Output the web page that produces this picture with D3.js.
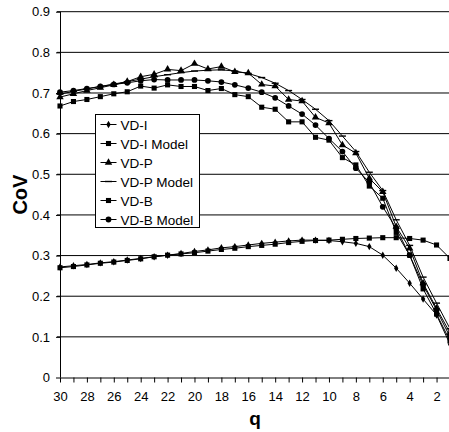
<!DOCTYPE html>
<html>
<head>
<meta charset="utf-8">
<script src="https://cdn.jsdelivr.net/npm/d3@7"></script>
<style>
  body { margin: 0; background: #fff; }
  svg { display: block; }
</style>
</head>
<body>
<svg width="449" height="432"></svg>
<script>
// q runs from 30 down to 1
const qValues = [30,29,28,27,26,25,24,23,22,21,20,19,18,17,16,15,14,13,12,11,10,9,8,7,6,5,4,3,2,1];
const xTicks = [30,28,26,24,22,20,18,16,14,12,10,8,6,4,2];
const yTicks = [0,0.1,0.2,0.3,0.4,0.5,0.6,0.7,0.8,0.9];

const vdI      = [0.272,0.275,0.278,0.282,0.285,0.289,0.293,0.297,0.301,0.305,0.310,0.314,0.319,0.322,0.326,0.330,0.333,0.336,0.338,0.338,0.337,0.334,0.330,0.322,0.301,0.269,0.232,0.193,0.154,0.082];
const vdIModel = [0.270,0.273,0.277,0.281,0.284,0.288,0.292,0.297,0.301,0.304,0.307,0.311,0.315,0.318,0.322,0.325,0.328,0.332,0.335,0.337,0.338,0.340,0.342,0.343,0.344,0.344,0.342,0.338,0.326,0.293];
const vdP      = [0.690,0.698,0.706,0.713,0.720,0.728,0.740,0.746,0.758,0.755,0.772,0.759,0.765,0.752,0.749,0.721,0.717,0.684,0.680,0.640,0.626,0.572,0.552,0.490,0.457,0.371,0.318,0.232,0.170,0.110];
const vdPModel = [0.697,0.704,0.710,0.716,0.722,0.728,0.734,0.740,0.745,0.750,0.754,0.756,0.757,0.754,0.748,0.738,0.724,0.706,0.684,0.660,0.632,0.594,0.556,0.505,0.460,0.388,0.325,0.247,0.183,0.120];
const vdB      = [0.668,0.679,0.684,0.691,0.698,0.703,0.717,0.712,0.720,0.716,0.716,0.706,0.711,0.696,0.691,0.665,0.660,0.629,0.629,0.591,0.584,0.541,0.523,0.471,0.441,0.357,0.301,0.218,0.156,0.090];
const vdBModel = [0.702,0.706,0.711,0.716,0.721,0.725,0.730,0.733,0.732,0.732,0.732,0.730,0.727,0.720,0.712,0.702,0.688,0.668,0.648,0.621,0.588,0.556,0.515,0.480,0.420,0.367,0.301,0.228,0.166,0.100];

const seriesNames = ["VD-I","VD-I Model","VD-P","VD-P Model","VD-B","VD-B Model"];
const seriesValues = [vdI, vdIModel, vdP, vdPModel, vdB, vdBModel];
const seriesMarkers = ["diamond","square","triangle","dash","square","circle"];

function drawMarker(sel, kind){
    if(kind == "dash"){
        sel.append("line")
            .attr("x1", -3.5).attr("x2", 3.5)
            .attr("y1", 0).attr("y2", 0)
            .style("stroke", "#000")
            .style("stroke-width", 1.4);
        return;
    }
    let type = d3.symbolSquare, size = 26;
    if(kind == "diamond"){ type = d3.symbolDiamond; size = 16; }
    if(kind == "triangle"){ type = d3.symbolTriangle; size = 24; }
    if(kind == "circle"){ type = d3.symbolCircle; size = 26; }
    sel.append("path")
        .attr("d", d3.symbol().type(type).size(size)())
        .style("fill", "#000");
}

function drawChart(){
    const svg = d3.select("svg");
    const left = 60, right = 450, top = 11.7, bottom = 377.5;

    const xScale = d3.scaleLinear().domain([30, 1]).range([left, right]);
    const yScale = d3.scaleLinear().domain([0, 0.9]).range([bottom, top]);

    // gridlines
    svg.append("g")
        .selectAll("line")
        .data(yTicks.slice(1))
        .enter().append("line")
        .attr("x1", left - 3).attr("x2", 449)
        .attr("y1", d => yScale(d)).attr("y2", d => yScale(d))
        .style("stroke", "#000")
        .style("stroke-width", 1);

    // y axis
    const yAxis = svg.append("g")
        .attr("transform", "translate(" + left + ",0)")
        .call(d3.axisLeft(yScale).tickValues(yTicks).tickSize(4).tickPadding(6)
            .tickFormat(d => d == 0 ? "0" : d3.format(".1f")(d)));
    yAxis.select(".domain").attr("d", "M0.5," + top + "V" + bottom).style("stroke", "#000");
    yAxis.selectAll("text")
        .style("font-family", "Liberation Sans, Arial, sans-serif")
        .style("font-size", "13px")
        .attr("fill", "#000");

    // x axis, tick on every q, label every second
    const xAxis = svg.append("g")
        .attr("transform", "translate(0," + bottom + ")")
        .call(d3.axisBottom(xScale).tickValues(qValues).tickSize(5).tickPadding(9)
            .tickFormat(d => xTicks.indexOf(d) >= 0 ? d : ""));
    xAxis.select(".domain").attr("d", "M" + left + ",0.5H449").style("stroke", "#000");
    xAxis.selectAll("text")
        .style("font-family", "Liberation Sans, Arial, sans-serif")
        .style("font-size", "13px")
        .attr("fill", "#000");

    // axis titles
    svg.append("text")
        .attr("transform", "translate(26.5," + ((top + bottom) / 2) + ")rotate(-90)")
        .attr("text-anchor", "middle")
        .style("font-family", "Liberation Sans, Arial, sans-serif")
        .style("font-size", "20px")
        .style("font-weight", "bold")
        .text("CoV");

    svg.append("text")
        .attr("x", (left + right) / 2)
        .attr("y", 425)
        .attr("text-anchor", "middle")
        .style("font-family", "Liberation Sans, Arial, sans-serif")
        .style("font-size", "19px")
        .style("font-weight", "bold")
        .text("q");

    // series
    const line = d3.line()
        .x(d => xScale(d[0]))
        .y(d => yScale(d[1]));

    for(const i in seriesValues){
        const pts = qValues.map((q, j) => [q, seriesValues[i][j]]);
        svg.append("path")
            .datum(pts)
            .attr("d", line)
            .style("fill", "none")
            .style("stroke", "#000")
            .style("stroke-width", 1);
        const marks = svg.append("g").selectAll("g")
            .data(pts)
            .enter().append("g")
            .attr("transform", d => "translate(" + xScale(d[0]) + "," + yScale(d[1]) + ")");
        drawMarker(marks, seriesMarkers[i]);
    }

    // legend
    const lx = 95.5, ly = 114.5, lw = 104, lh = 113;
    const legend = svg.append("g");
    legend.append("rect")
        .attr("x", lx).attr("y", ly)
        .attr("width", lw).attr("height", lh)
        .style("fill", "#fff")
        .style("stroke", "#000")
        .style("stroke-width", 1);
    const rows = legend.selectAll("g.row")
        .data(seriesNames)
        .enter().append("g")
        .attr("class", "row")
        .attr("transform", (d, i) => "translate(" + lx + "," + (ly + 10 + i * 19) + ")");
    rows.append("line")
        .attr("x1", 5).attr("x2", 21)
        .attr("y1", 0).attr("y2", 0)
        .style("stroke", "#000");
    rows.each(function(d, i){
        const m = d3.select(this).append("g").attr("transform", "translate(13,0)");
        drawMarker(m, seriesMarkers[i]);
    });
    rows.append("text")
        .attr("x", 25)
        .attr("y", 5)
        .style("font-family", "Liberation Sans, Arial, sans-serif")
        .style("font-size", "13.5px")
        .text(d => d);
}

drawChart();
</script>
</body>
</html>
